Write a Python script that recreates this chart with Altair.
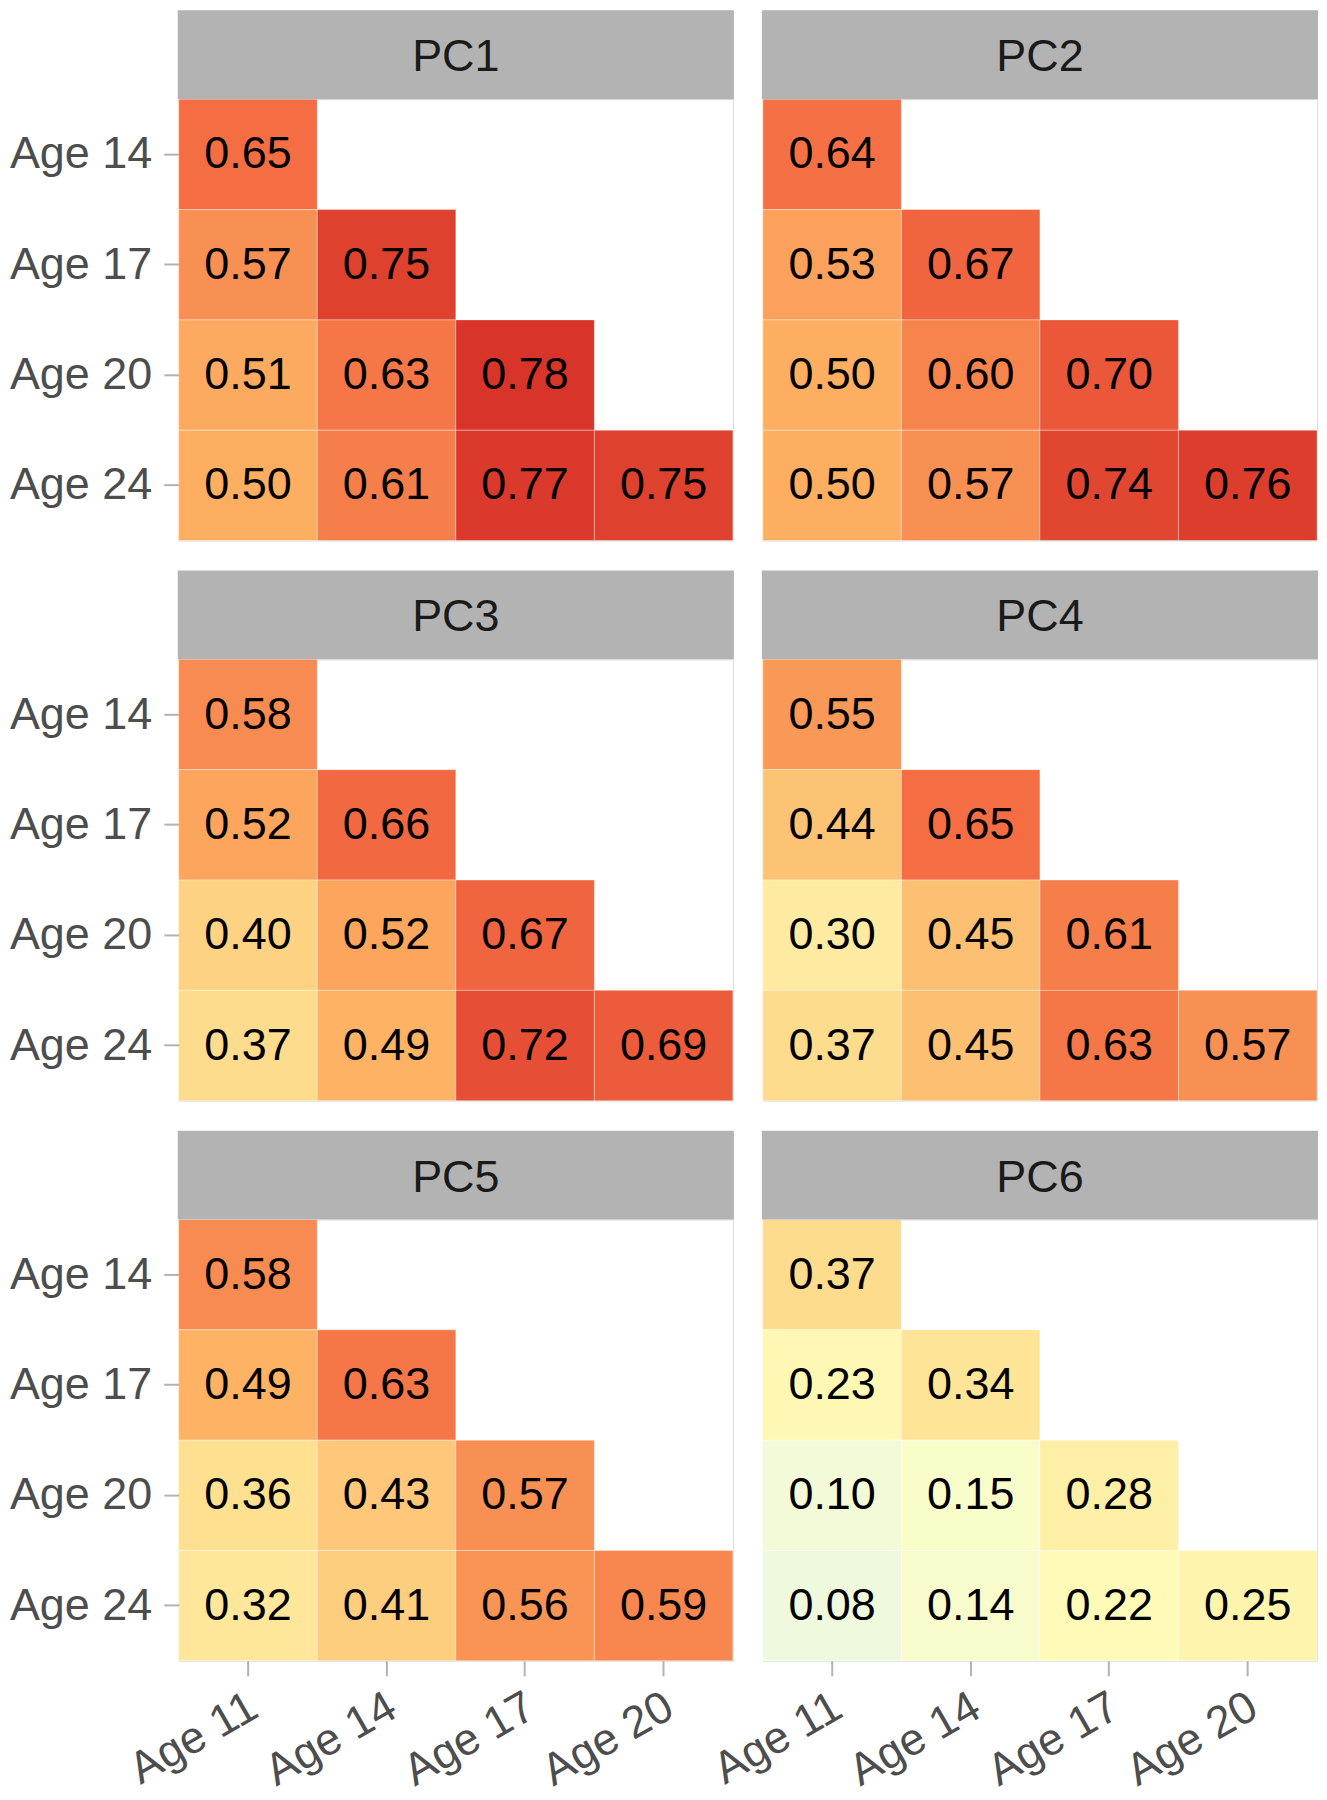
import altair as alt
import pandas as pd

# ---- data ----
pcs = ["PC1", "PC2", "PC3", "PC4", "PC5", "PC6"]
ages_x = ["Age 11", "Age 14", "Age 17", "Age 20"]
ages_y = ["Age 14", "Age 17", "Age 20", "Age 24"]

# lower-triangular correlations, rows = ages_y, cols = ages_x
pc1 = [[0.65], [0.57, 0.75], [0.51, 0.63, 0.78], [0.50, 0.61, 0.77, 0.75]]
pc2 = [[0.64], [0.53, 0.67], [0.50, 0.60, 0.70], [0.50, 0.57, 0.74, 0.76]]
pc3 = [[0.58], [0.52, 0.66], [0.40, 0.52, 0.67], [0.37, 0.49, 0.72, 0.69]]
pc4 = [[0.55], [0.44, 0.65], [0.30, 0.45, 0.61], [0.37, 0.45, 0.63, 0.57]]
pc5 = [[0.58], [0.49, 0.63], [0.36, 0.43, 0.57], [0.32, 0.41, 0.56, 0.59]]
pc6 = [[0.37], [0.23, 0.34], [0.10, 0.15, 0.28], [0.08, 0.14, 0.22, 0.25]]
all_vals = [pc1, pc2, pc3, pc4, pc5, pc6]

color_stops = [-0.02, 0.19, 0.36, 0.50, 0.65, 0.79]
color_range = ["#e0f3f8", "#ffffbf", "#fee090", "#fdae61", "#f46d43", "#d73027"]

FONT = "Liberation Sans"
W = 555
H = 442
HH = 88
GRAY = "#B3B3B3"
BORDER = "#ABABAB"


def panel_df(vals):
    rows = []
    for ri, row in enumerate(vals):
        for ci, v in enumerate(row):
            rows.append({"row": ages_y[ri], "col": ages_x[ci], "value": v})
    return pd.DataFrame(rows)


def panel(name, vals, show_y, show_x):
    df = panel_df(vals)
    if show_x:
        xaxis = alt.Axis(title=None, labelFontSize=45, labelFont=FONT,
                         labelColor="#4D4D4D", tickColor=GRAY, tickSize=15,
                         tickWidth=2, labelAngle=-30, labelAlign="right",
                         labelBaseline="top", labelPadding=8, labelOffset=-5,
                         domain=False)
    else:
        xaxis = None
    if show_y:
        yaxis = alt.Axis(title=None, labelFontSize=45, labelFont=FONT,
                         labelColor="#4D4D4D", tickColor=GRAY, tickSize=15,
                         tickWidth=2, labelPadding=12, domain=False)
    else:
        yaxis = None
    x = alt.X("col:N", scale=alt.Scale(domain=ages_x, paddingInner=0, paddingOuter=0),
              axis=xaxis, sort=ages_x)
    y = alt.Y("row:N", scale=alt.Scale(domain=ages_y, paddingInner=0, paddingOuter=0),
              axis=yaxis, sort=ages_y)
    base = alt.Chart(df)
    rect = base.mark_rect(stroke="white", strokeWidth=1, strokeOpacity=0.35).encode(
        x=x, y=y,
        color=alt.Color("value:Q",
                        scale=alt.Scale(domain=color_stops, range=color_range,
                                        interpolate="rgb", clamp=True),
                        legend=None),
    )
    txt = base.mark_text(fontSize=45, font=FONT, color="black",
                         align="center", baseline="middle").encode(
        x=x, y=y, text=alt.Text("value:Q", format=".2f")
    )
    hdf = pd.DataFrame({"pc": [name]})
    hbase = alt.Chart(hdf)
    band = hbase.mark_rect(fill=GRAY, stroke=GRAY, strokeWidth=2).encode(
        x=alt.value(0), x2=alt.value(W), y=alt.value(-HH), y2=alt.value(-1)
    )
    htxt = hbase.mark_text(fontSize=45, font=FONT, color="#1A1A1A",
                           align="center", baseline="middle").encode(
        x=alt.value(W / 2), y=alt.value(-HH / 2 + 2), text="pc:N"
    )
    return alt.layer(rect, txt, band, htxt).properties(width=W, height=H)


panels = []
for i in range(6):
    r, c = divmod(i, 2)
    panels.append(panel(pcs[i], all_vals[i], c == 0, r == 2))

chart = (
    alt.concat(*panels, columns=2, spacing={"column": 30, "row": 31 + HH}, bounds="flush")
    .properties(padding={"left": 0, "top": 0, "right": 0, "bottom": 0})
    .configure_view(stroke=BORDER, strokeWidth=2.5)
    .configure(font=FONT)
)

chart.save("out.html", embed_options={"renderer": "svg", "actions": False})
